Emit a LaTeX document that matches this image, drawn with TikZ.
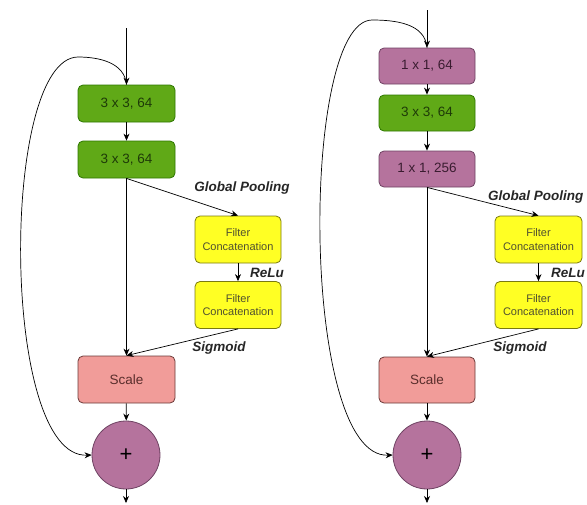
\documentclass[tikz,border=0pt]{standalone}
\usepackage{fontspec}
\setmainfont{Liberation Sans}
\usetikzlibrary{arrows.meta}
\definecolor{gfill}{HTML}{60A917}
\definecolor{gdraw}{HTML}{2D7600}
\definecolor{gtext}{HTML}{1E3A08}
\definecolor{pfill}{HTML}{B5739D}
\definecolor{pdraw}{HTML}{6E4262}
\definecolor{ptext}{HTML}{3A1C30}
\definecolor{sfill}{HTML}{F19C99}
\definecolor{sdraw}{HTML}{6B3A38}
\definecolor{stext}{HTML}{5A2E2C}
\definecolor{yfill}{HTML}{FFFF24}
\definecolor{ydraw}{HTML}{7A7A10}
\definecolor{ytext}{HTML}{505030}
\tikzset{
  blk/.style={rounded corners=5pt, line width=0.8pt, align=center, inner sep=1pt,
    minimum width=97pt, minimum height=37pt, font=\fontsize{13.5}{16}\selectfont},
  greenbox/.style={blk, fill=gfill, draw=gdraw, text=gtext},
  purplebox/.style={blk, fill=pfill, draw=pdraw, text=ptext},
  scalebox/.style={blk, fill=sfill, draw=sdraw, text=stext, minimum height=47pt},
  filterbox/.style={blk, fill=yfill, draw=ydraw, text=ytext, minimum width=86pt,
    minimum height=47pt, font=\fontsize{11}{13.3}\selectfont},
  plusnode/.style={circle, fill=pfill, draw=pdraw, line width=0.8pt, minimum size=68pt,
    inner sep=0pt, font=\fontsize{22}{22}\selectfont},
  lbl/.style={font=\fontsize{13.5}{16}\selectfont\bfseries\itshape, text=black!85, inner sep=0pt},
  arr/.style={-{Stealth[length=7pt,width=6pt]}, line width=0.7pt},
}
\begin{document}
\begin{tikzpicture}[x=1pt,y=-1pt]
\useasboundingbox (0,0) rectangle (587,504);
% ---------- left block ----------
\coordinate (lin) at (126.5,28);
\coordinate (lout) at (126,503);
\coordinate (lpeak) at (78,57);
\node[greenbox] (b1) at (126.5,103.5) {3 x 3, 64};
\node[greenbox] (b2) at (126.5,159.5) {3 x 3, 64};
\node[filterbox] (f1) at (238,239.5) {Filter\\Concatenation};
\node[filterbox] (f2) at (238,305) {Filter\\Concatenation};
\node[scalebox] (sc) at (126.5,379.5) {Scale};
\node[plusnode] (pl) at (126,455) {+};
\node[lbl] (lgp) at (242,188) {Global Pooling};
\node[lbl] (lrl) at (267,273) {ReLu};
\node[lbl] (lsg) at (219,348) {Sigmoid};
\draw[arr] (lin) -- (b1.north);
\draw[arr] (b1) -- (b2);
\draw[arr] (b2) -- (sc);
\draw[arr] (b2.south) -- (f1.north);
\draw[arr] (f1) -- (f2);
\draw[arr] (f2.south) -- (sc.north);
\draw[arr] (sc) -- (pl);
\draw[arr] (pl) -- (lout);
\draw[arr] (b1.north) to[out=95,in=0] (lpeak)
  .. controls (0,58) and (0,459) .. (pl.west);
% ---------- right block ----------
\coordinate (rin) at (427,10);
\coordinate (rout) at (427,503);
\coordinate (rpeak) at (372,20);
\node[purplebox, minimum width=96pt, minimum height=36pt] (ra) at (427,66) {1 x 1, 64};
\node[greenbox, minimum width=96pt, minimum height=36pt] (rb) at (427,113) {3 x 3, 64};
\node[purplebox, minimum width=96pt, minimum height=36pt] (rc) at (427,169) {1 x 1, 256};
\node[filterbox, minimum width=87pt] (rf1) at (538.5,239.5) {Filter\\Concatenation};
\node[filterbox, minimum width=87pt] (rf2) at (538.5,305) {Filter\\Concatenation};
\node[scalebox, minimum width=96pt, minimum height=46pt] (rsc) at (427,380) {Scale};
\node[plusnode] (rpl) at (427,455) {+};
\node[lbl, anchor=west] (rgp) at (488,197) {Global Pooling};
\node[lbl] (rrl) at (568,273) {ReLu};
\node[lbl] (rsg) at (520,348) {Sigmoid};
\draw[arr] (rin) -- (ra.north);
\draw[arr] (ra) -- (rb);
\draw[arr] (rb) -- (rc);
\draw[arr] (rc) -- (rsc);
\draw[arr] (rc.south) -- (rf1.north);
\draw[arr] (rf1) -- (rf2);
\draw[arr] (rf2.south) -- (rsc.north);
\draw[arr] (rsc) -- (rpl);
\draw[arr] (rpl) -- (rout);
\draw[arr] (ra.north) to[out=95,in=0] (rpeak)
  .. controls (300,21) and (300,459) .. (rpl.west);
\end{tikzpicture}
\end{document}
